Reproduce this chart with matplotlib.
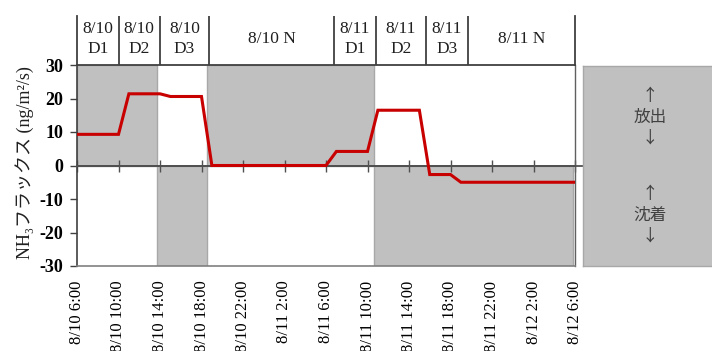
import matplotlib
matplotlib.use("Agg")
import matplotlib.pyplot as plt
from matplotlib.patches import Rectangle

# NH3 flux time series (hours since 8/10 6:00)
hours = [0, 4, 5, 8, 9, 12, 13, 24, 25, 28, 29, 33, 34, 36, 37, 48]
flux = [9.3, 9.3, 21.4, 21.4, 20.6, 20.6, 0.0, 0.0, 4.2, 4.2, 16.5, 16.5, -2.7, -2.7, -5.0, -5.0]

tick_hours = [0, 4, 8, 12, 16, 20, 24, 28, 32, 36, 40, 44, 48]
tick_labels = ["8/10 6:00", "8/10 10:00", "8/10 14:00", "8/10 18:00", "8/10 22:00",
               "8/11 2:00", "8/11 6:00", "8/11 10:00", "8/11 14:00", "8/11 18:00",
               "8/11 22:00", "8/12 2:00", "8/12 6:00"]
y_ticks = [-30, -20, -10, 0, 10, 20, 30]

# sampling periods shown in the header row
period_labels = ["8/10\nD1", "8/10\nD2", "8/10\nD3", "8/10 N",
                 "8/11\nD1", "8/11\nD2", "8/11\nD3", "8/11 N"]
period_edges = [0, 4, 8, 12.7, 24.8, 28.8, 33.6, 37.7, 48]

# shaded spans: (start, end, upper half?)
shade_spans = [(0, 7.75, True), (7.75, 12.55, False), (12.55, 28.6, True), (28.6, 47.8, False)]

SERIF = ["Liberation Serif", "Noto Sans CJK JP", "DejaVu Sans"]
CJK = ["Noto Sans CJK JP", "DejaVu Sans"]
GRAY = "#c0c0c0"
EDGE = "#a8a8a8"
DARK = "#404040"

W, H = 712, 351
fig = plt.figure(figsize=(W / 100, H / 100), dpi=100)

x0, x1 = 77, 575
y_top, y_bot = 65, 266
ax = fig.add_axes([x0 / W, (H - y_bot) / H, (x1 - x0) / W, (y_bot - y_top) / H])
ax.set_xlim(0, 48)
ax.set_ylim(-30, 30)

for s, e, upper in shade_spans:
    ax.add_patch(Rectangle((s, 0 if upper else -30), e - s, 30,
                           facecolor=GRAY, edgecolor=EDGE, lw=1.0, zorder=1))

ax.plot(hours, flux, color="#c80000", lw=2.2, zorder=4, solid_joinstyle="miter")

# zero line carried through to the right-hand legend box
ax.plot([0, 1.3], [0, 0], transform=ax.get_yaxis_transform(), color="#505050",
        lw=1.3, clip_on=False, zorder=3)

ax.spines["left"].set_color(DARK)
ax.spines["left"].set_linewidth(1.2)
ax.spines["bottom"].set_color("#808080")
ax.spines["bottom"].set_linewidth(1.2)
ax.spines["right"].set_color("#606060")
ax.spines["right"].set_linewidth(1.0)
ax.spines["top"].set_position(("data", 0))
ax.spines["top"].set_color("#505050")
ax.spines["top"].set_linewidth(1.3)
ax.spines["top"].set_zorder(3)

ax.set_xticks(tick_hours)
ax.set_xticklabels(tick_labels, rotation=90, family=SERIF, fontsize=12)
ax.tick_params(axis="x", top=True, bottom=False, labeltop=False, labelbottom=True,
               direction="inout", length=9, width=1.0, color="#505050", pad=6)
ax.set_yticks(y_ticks)
ax.set_yticklabels([str(v) for v in y_ticks], family=SERIF, fontsize=13, fontweight="bold")
ax.tick_params(axis="y", direction="out", length=5, width=1.0, color=DARK, pad=5)

fig.text(25 / W, (H - 163) / H, "NH₃フラックス (ng/m²/s)", rotation=90,
         ha="center", va="center", fontsize=13, family=SERIF, color="#202020")

# header row with the sampling periods
hy_top = 16
hax = fig.add_axes([x0 / W, (H - y_top) / H, (x1 - x0) / W, (y_top - hy_top) / H])
hax.set_xlim(0, 48)
hax.set_ylim(0, 1)
hax.set_xticks([])
hax.set_yticks([])
hax.patch.set_alpha(0)
hax.spines["top"].set_visible(False)
for side in ("left", "right", "bottom"):
    hax.spines[side].set_color(DARK)
    hax.spines[side].set_linewidth(1.3)
for edge in period_edges[1:-1]:
    hax.axvline(edge, color=DARK, lw=1.3)
for i, lab in enumerate(period_labels):
    xc = (period_edges[i] + period_edges[i + 1]) / 2
    hax.text(xc, 0.53, lab, ha="center", va="center", family=SERIF, fontsize=12.5,
             linespacing=1.3, color="#202020")

# legend box: emission above, deposition below
bx0, by_top = 583, 66
bax = fig.add_axes([bx0 / W, (H - y_bot) / H, (W - bx0 + 5) / W, (y_bot - by_top) / H])
bax.set_xlim(0, 1)
bax.set_ylim(0, 1)
bax.set_xticks([])
bax.set_yticks([])
bax.set_facecolor(GRAY)
for sp in bax.spines.values():
    sp.set_color(EDGE)
    sp.set_linewidth(1.0)
bax.text(0.5, 0.745, "↑\n放出\n↓", ha="center", va="center", family=CJK,
         fontsize=12, color="#404040", linespacing=1.3, transform=bax.transAxes)
bax.text(0.5, 0.255, "↑\n沈着\n↓", ha="center", va="center", family=CJK,
         fontsize=12, color="#404040", linespacing=1.3, transform=bax.transAxes)

fig.savefig("out.png", dpi=100)
